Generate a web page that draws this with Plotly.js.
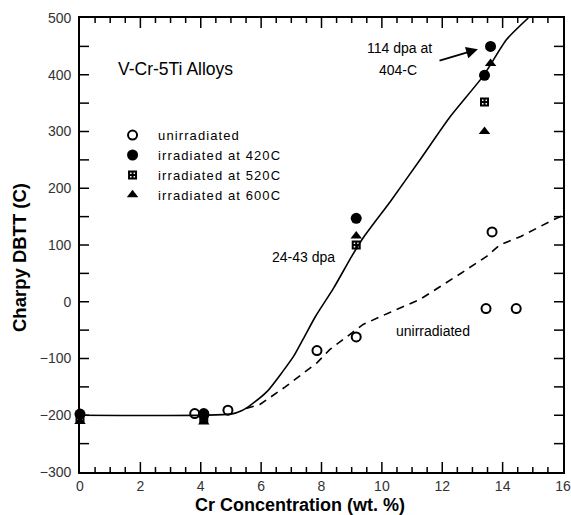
<!DOCTYPE html>
<html><head><meta charset="utf-8">
<script src="https://cdn.plot.ly/plotly-3.0.1.min.js"></script>
<style>
html,body{margin:0;padding:0;background:#fff}#c{width:571px;height:515px}
.legendtext{letter-spacing:1.1px}
</style>
</head><body><div id="c"></div>
<script>
// Data
var unirrX = [3.8, 4.1, 4.9, 7.85, 9.15, 13.45, 13.65, 14.45];
var unirrY = [-197, -197, -191, -86, -62, -12, 123, -12];
var irr420X = [0, 4.1, 9.15, 13.4, 13.6];
var irr420Y = [-198, -199, 147, 399, 450];
var irr520X = [0, 4.1, 9.15, 13.4];
var irr520Y = [-205, -207, 100, 352];
var irr600X = [0, 4.1, 9.15, 13.4, 13.6];
var irr600Y = [-211, -212, 116, 300, 420];
var fitIrrX = [0, 5.0, 5.35, 5.65, 6.2, 6.7, 7.1, 7.45, 7.8, 8.4, 9.0, 9.4, 10.3, 11.3, 12.26, 13.36, 14.13, 14.85];
var fitIrrY = [-200, -198, -192, -182, -158, -124, -94, -60, -26, 24, 80, 114, 178, 253, 326, 398, 462, 500];
var fitUnX = [5.5, 5.96, 6.8, 7.84, 8.28, 9.38, 10.3, 11.26, 12.5, 13.47, 13.9, 14.6, 15.66, 16];
var fitUnY = [-188, -181, -150, -108, -84, -40, -18, 4, 46, 80, 100, 115, 144, 152];
var legendNames = ["unirradiated", "irradiated at 420C", "irradiated at 520C", "irradiated at 600C"];
var xTitle = "Cr Concentration (wt. %)";
var yTitle = "Charpy DBTT (C)";

var fontFam = "Liberation Sans, Arial, sans-serif";
var xRange = [0, 16], yRange = [-300, 500];
var plotW = 571 - 80 - 8, plotH = 515 - 18 - 43;

var traces = [
  {x: fitIrrX, y: fitIrrY, mode: "lines", line: {color: "#000", width: 1.6, shape: "spline", smoothing: 0.6}, showlegend: false, hoverinfo: "skip"},
  {x: fitUnX, y: fitUnY, mode: "lines", line: {color: "#000", width: 1.6, dash: "8px,6px"}, showlegend: false, hoverinfo: "skip"},
  {x: unirrX, y: unirrY, mode: "markers", name: legendNames[0], cliponaxis: false,
   marker: {symbol: "circle-open", size: 9, color: "#000", line: {width: 2, color: "#000"}}},
  {x: irr420X, y: irr420Y, mode: "markers", name: legendNames[1], cliponaxis: false,
   marker: {symbol: "circle", size: 11, color: "#000"}},
  {x: irr520X, y: irr520Y, mode: "markers", name: legendNames[2], cliponaxis: false,
   marker: {symbol: "square-cross-open", size: 7, color: "#000", line: {width: 2, color: "#000"}}},
  {x: irr600X, y: irr600Y, mode: "markers", name: legendNames[3], cliponaxis: false,
   marker: {symbol: "triangle-up", size: 10, color: "#000"}}
];

// Axis tick marks (inside, on all four sides) as line shapes on the axes' own scales
var shapes = [];
var tickLine = {color: "#000", width: 1.5};
for (var i = 1; i < 32; i++) {
  var xv = xRange[0] + i * 0.5;
  var len = (i % 4 === 0 ? 10 : 5) / plotH;
  shapes.push({type: "line", xref: "x", yref: "paper", x0: xv, x1: xv, y0: 0, y1: len, line: tickLine, layer: "above"});
  shapes.push({type: "line", xref: "x", yref: "paper", x0: xv, x1: xv, y0: 1, y1: 1 - len, line: tickLine, layer: "above"});
}
for (var j = 1; j < 16; j++) {
  var yv = yRange[0] + j * 50;
  var lenX = 9 / plotW;
  shapes.push({type: "line", xref: "paper", yref: "y", x0: 0, x1: lenX, y0: yv, y1: yv, line: tickLine, layer: "above"});
  shapes.push({type: "line", xref: "paper", yref: "y", x0: 1, x1: 1 - lenX, y0: yv, y1: yv, line: tickLine, layer: "above"});
}

var tf = {family: fontFam, size: 14, color: "#333"};
var layout = {
  width: 571, height: 515,
  margin: {l: 80, r: 8, t: 18, b: 43},
  showlegend: true,
  font: {family: fontFam, color: "#000"},
  xaxis: {
    range: xRange, dtick: 2,
    showline: true, linecolor: "#000", linewidth: 2, mirror: true,
    ticks: "", showgrid: false, zeroline: false,
    tickfont: tf
  },
  yaxis: {
    range: yRange, dtick: 100,
    showline: true, linecolor: "#000", linewidth: 2, mirror: true,
    ticks: "", showgrid: false, zeroline: false,
    ticksuffix: " ",
    tickfont: tf
  },
  legend: {
    x: 0.056, y: 0.775, xanchor: "left", yanchor: "top",
    bgcolor: "rgba(0,0,0,0)", font: {family: fontFam, size: 13, color: "#000"},
    tracegroupgap: 0, itemwidth: 41
  },
  shapes: shapes,
  annotations: [
    {x: (300 - 80) / plotW, y: (472 - 505) / plotH, xref: "paper", yref: "paper", xanchor: "center", yanchor: "middle", text: "<b>" + xTitle + "</b>", showarrow: false,
     font: {family: fontFam, size: 18, color: "#000"}},
    {x: (19 - 80) / plotW, y: (472 - 258) / plotH, xref: "paper", yref: "paper", xanchor: "center", yanchor: "middle", textangle: -90, text: "<b>" + yTitle + "</b>", showarrow: false,
     font: {family: fontFam, size: 18.5, color: "#000"}},
    {x: 3.15, y: 410, xref: "x", yref: "y", text: "V-Cr-5Ti Alloys", showarrow: false, font: {family: fontFam, size: 17.5, color: "#000"}},
    {x: 10.57, y: 448, xref: "x", yref: "y", text: "114 dpa at", showarrow: false, font: {family: fontFam, size: 14, color: "#000"}},
    {x: 10.55, y: 409, xref: "x", yref: "y", text: "404-C", showarrow: false, font: {family: fontFam, size: 14, color: "#000"}},
    {x: 13.18, y: 445, xref: "x", yref: "y", ax: 11.86, ay: 424, axref: "x", ayref: "y", text: "", showarrow: true,
     arrowhead: 2, arrowsize: 1.3, arrowwidth: 1.8, arrowcolor: "#000"},
    {x: 7.39, y: 79, xref: "x", yref: "y", text: "24-43 dpa", showarrow: false, font: {family: fontFam, size: 14, color: "#000"}},
    {x: 11.68, y: -51, xref: "x", yref: "y", text: "unirradiated", showarrow: false, font: {family: fontFam, size: 14, color: "#000"}}
  ]
};

Plotly.newPlot("c", traces, layout, {displayModeBar: false, staticPlot: true});
</script>
</body></html>
